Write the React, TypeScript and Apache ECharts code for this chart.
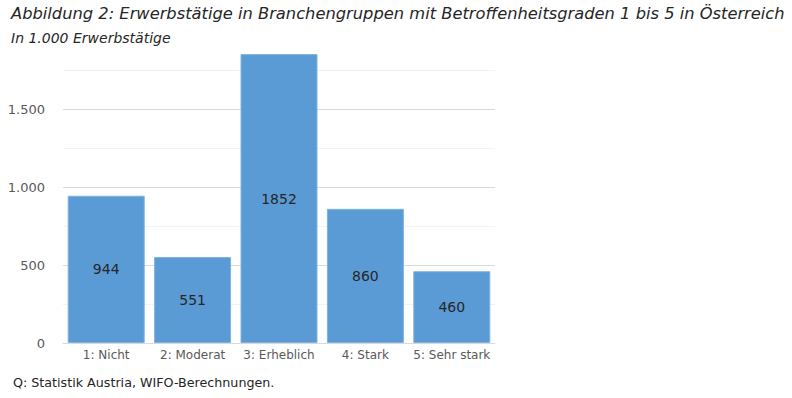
import React, { useEffect, useRef } from "react";
import * as echarts from "echarts";

const categories = ["1: Nicht", "2: Moderat", "3: Erheblich", "4: Stark", "5: Sehr stark"];
const values = [944, 551, 1852, 860, 460];
const titleText = "Abbildung 2: Erwerbstätige in Branchengruppen mit Betroffenheitsgraden 1 bis 5 in Österreich";
const subtitleText = "In 1.000 Erwerbstätige";
const sourceText = "Q: Statistik Austria, WIFO-Berechnungen.";

const FONT = "DejaVu Sans";

export default function App() {
  const ref = useRef<HTMLDivElement>(null);
  useEffect(() => {
    const chart = echarts.init(ref.current!, null, { renderer: "svg" });
    chart.setOption({
      animation: false,
      backgroundColor: "#ffffff",
      title: [
        {
          text: titleText,
          left: 6,
          top: 0,
          textStyle: { fontFamily: FONT, fontStyle: "italic", fontWeight: "normal", fontSize: 16.3, color: "#262626" },
        },
        {
          text: subtitleText,
          left: 6,
          top: 26,
          textStyle: { fontFamily: FONT, fontStyle: "italic", fontWeight: "normal", fontSize: 14, color: "#262626" },
        },
        {
          text: sourceText,
          left: 8,
          top: 371,
          textStyle: { fontFamily: FONT, fontWeight: "normal", fontSize: 12.7, color: "#262626" },
        },
      ],
      grid: { left: 63, right: 297, top: 70, bottom: 55 },
      xAxis: {
        type: "category",
        data: categories,
        axisTick: { show: false },
        axisLine: { lineStyle: { color: "#d9d9d9" } },
        axisLabel: { fontFamily: FONT, fontSize: 12, color: "#595959", margin: 6, interval: 0 },
      },
      yAxis: {
        type: "value",
        min: 0,
        max: 1750,
        interval: 250,
        axisLabel: {
          fontFamily: FONT,
          fontSize: 13,
          color: "#595959",
          margin: 18,
          formatter: (v: number) => (v % 500 === 0 ? v.toLocaleString("de-DE") : ""),
        },
        splitLine: { lineStyle: { color: ["#d9d9d9", "#f2f2f2"] } },
      },
      series: [
        {
          type: "bar",
          data: values,
          barWidth: 77,
          clip: false,
          itemStyle: { color: "#5B9BD5", borderColor: "#7fb2e0", borderWidth: 1 },
          label: {
            show: true,
            position: "inside",
            fontFamily: FONT,
            fontSize: 14,
            color: "#262626",
          },
        },
      ],
    });
    return () => chart.dispose();
  }, []);
  return <div ref={ref} style={{ position: "fixed", left: 0, top: 0, width: 792, height: 398 }} />;
}
